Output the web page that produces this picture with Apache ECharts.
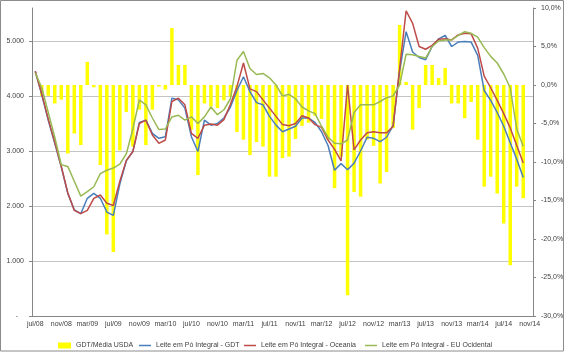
<!DOCTYPE html>
<html>
<head>
<meta charset="utf-8">
<script src="https://cdn.jsdelivr.net/npm/echarts@6/dist/echarts.min.js"></script>
<style>
  html, body { margin: 0; padding: 0; background: #fff; }
  #chart { width: 567px; height: 353px; }
</style>
</head>
<body>
<div id="chart"></div>
<script>
// eixo mensal jul/08 .. nov/14
const monthNames = ['jan', 'fev', 'mar', 'abr', 'mai', 'jun', 'jul', 'ago', 'set', 'out', 'nov', 'dez']
const months = []
for (let k = 0; k < 77; k++) {
  const m = (6 + k) % 12
  const y = 8 + Math.floor((6 + k) / 12)
  months.push(monthNames[m] + '/' + String(y).padStart(2, '0'))
}

// GDT / Média USDA (%), eixo direito
const gdtVsUsda = [
  null, -1.4, -1.4, -2.4, -1.9, -8.9, -6.3, -7.8, 3.0, -0.3,
  -10.4, -19.4, -21.7, -8.5, -3.5, -8.0, -3.2, -7.8, -3.2, -0.2,
  -0.6, 7.4, 2.6, 2.6, -5.8, -11.7, -2.4, -2.8, -3.0, -2.0,
  -1.5, -6.1, -7.1, -9.1, -7.4, -8.0, -11.9, -11.9, -9.5, -9.3,
  -7.0, -5.3, -4.9, -4.0, -4.4, -7.1, -13.4, -9.3, -27.3, -13.9,
  -14.5, -7.1, -7.9, -12.8, -11.3, -5.6, 7.8, 0.4, -5.8, -3.0,
  2.6, 2.6, 0.9, 2.2, -2.4, -2.4, -4.3, -2.2, -7.1, -13.2,
  -11.9, -14.1, -18.0, -23.4, -13.2, -14.7
]

// Leite em Pó Integral (US$/t), eixo esquerdo
const powderGDT = [
  4450, 4020, 3560, 3140, 2710, 2230, 1930, 1860, 2140, 2230,
  2140, 1890, 1830, 2400, 2820, 2990, 3520, 3560, 3320, 3230,
  3260, 3960, 3930, 3780, 3260, 2990, 3560, 3470, 3500, 3600,
  3800, 4100, 4350, 4080, 3880, 3840, 3630, 3470, 3350, 3400,
  3450, 3600, 3600, 3520, 3350, 3100, 2650, 2770, 2660, 2780,
  3000, 3250, 3230, 3170, 3250, 3460, 4450, 5170, 4800, 4700,
  4660, 4900, 5040, 5100, 4900, 4980, 4990, 4980, 4740, 4100,
  3920, 3700, 3450, 3150, 2850, 2520
]
const powderOceania = [
  4450, 4040, 3580, 3160, 2720, 2240, 1920, 1860, 1920, 2140,
  2200, 2050, 2010, 2450, 2830, 2990, 3500, 3560, 3290, 3140,
  3200, 3900, 3960, 3840, 3320, 3230, 3470, 3490, 3470, 3570,
  3850, 4170, 4600, 4130, 4080, 3930, 3780, 3630, 3480, 3460,
  3500, 3640, 3600, 3480, 3430, 3200, 3030, 2820, 4200, 3020,
  3200, 3330, 3350, 3330, 3330, 3450, 4500, 5550, 5320, 4900,
  4850, 4920, 5030, 5040, 5020, 5110, 5140, 5130, 4870, 4360,
  4150, 3920, 3680, 3420, 3100, 2780
]
const powderEU = [
  4420, 4150, 3700, 3250, 2750, 2720, 2450, 2180, 2260, 2350,
  2590, 2650, 2690, 2760, 2950, 3400, 3930, 3840, 3600, 3390,
  3400, 3620, 3650, 3560, 3620, 3500, 3620, 3800, 3660, 3750,
  3950, 4650, 4810, 4500, 4390, 4410, 4330, 4200, 4000, 4030,
  3950, 3800, 3730, 3680, 3450, 3250, 3140, 3130, 3200, 3700,
  3840, 3840, 3840, 3900, 3970, 4000, 4200, 4760, 4750, 4720,
  4690, 4900, 5000, 5020, 5020, 5100, 5170, 5140, 5070, 4880,
  4720, 4600, 4400, 4150, 3400, 3080
]

const font = "'Liberation Sans', Arial, sans-serif"
const axisGray = '#868686'
const textGray = '#404040'

function thousands(v) {
  if (v === 0) return '-   '
  return String(v).replace(/\B(?=(\d{3})+(?!\d))/g, '.')
}
function pct(v) {
  return v.toFixed(1).replace('.', ',') + '%'
}

const legendText = { fontSize: 7, color: textGray, fontFamily: font }

const chart = echarts.init(document.getElementById('chart'))
chart.setOption({
  animation: false,
  backgroundColor: '#fff',
  graphic: [
    {
      type: 'rect',
      shape: { x: 0.5, y: 0.5, width: 563, height: 350.5 },
      style: { fill: 'none', stroke: '#8c8c8c', lineWidth: 1 },
      silent: true,
    },
  ],
  grid: { left: 32, right: 34, top: 8, bottom: 37 },
  legend: [
    {
      data: [{ name: 'GDT/Média USDA', icon: 'rect' }],
      left: 53, top: 337, itemWidth: 13, itemHeight: 6,
      textStyle: legendText,
    },
    {
      data: [{ name: 'Leite em Pó Integral - GDT', icon: 'rect' }],
      left: 134, top: 337, itemWidth: 12, itemHeight: 1.5,
      textStyle: legendText,
    },
    {
      data: [{ name: 'Leite em Pó Integral - Oceania', icon: 'rect' }],
      left: 239, top: 337, itemWidth: 12, itemHeight: 1.5,
      textStyle: legendText,
    },
    {
      data: [{ name: 'Leite em Pó Integral - EU Ocidental', icon: 'rect' }],
      left: 360, top: 337, itemWidth: 12, itemHeight: 1.5,
      textStyle: legendText,
    },
  ],
  xAxis: {
    type: 'category',
    data: months,
    boundaryGap: true,
    axisLine: { lineStyle: { color: axisGray } },
    axisTick: { interval: 3, length: 4, lineStyle: { color: axisGray } },
    axisLabel: { interval: 3, margin: 5, fontSize: 7, color: textGray, fontFamily: font },
  },
  yAxis: [
    {
      type: 'value',
      min: 0,
      max: 5600,
      interval: 1000,
      axisLine: { show: true, lineStyle: { color: axisGray } },
      axisTick: { show: true, length: 3, lineStyle: { color: axisGray } },
      axisLabel: {
        margin: 8, fontSize: 7, color: textGray, fontFamily: font,
        showMaxLabel: false, formatter: thousands,
      },
      splitLine: { show: true, showMaxLine: false, lineStyle: { color: '#c4c4c4' } },
    },
    {
      type: 'value',
      min: -30,
      max: 10,
      interval: 5,
      position: 'right',
      axisLine: { show: true, onZero: false, lineStyle: { color: axisGray } },
      axisTick: { show: true, length: 3, lineStyle: { color: axisGray } },
      axisLabel: { margin: 8, fontSize: 7, color: textGray, fontFamily: font, formatter: pct },
      splitLine: { show: false },
    },
  ],
  series: [
    {
      name: 'GDT/Média USDA',
      type: 'bar',
      yAxisIndex: 1,
      data: gdtVsUsda,
      barWidth: 3.5,
      itemStyle: { color: '#ffff00' },
    },
    {
      name: 'Leite em Pó Integral - GDT',
      type: 'line',
      data: powderGDT,
      symbol: 'none',
      lineStyle: { color: '#4a7ebb', width: 1.5 },
      itemStyle: { color: '#4a7ebb' },
    },
    {
      name: 'Leite em Pó Integral - Oceania',
      type: 'line',
      data: powderOceania,
      symbol: 'none',
      lineStyle: { color: '#be4b48', width: 1.5 },
      itemStyle: { color: '#be4b48' },
    },
    {
      name: 'Leite em Pó Integral - EU Ocidental',
      type: 'line',
      data: powderEU,
      symbol: 'none',
      lineStyle: { color: '#98b954', width: 1.5 },
      itemStyle: { color: '#98b954' },
    },
  ],
})
</script>
</body>
</html>
